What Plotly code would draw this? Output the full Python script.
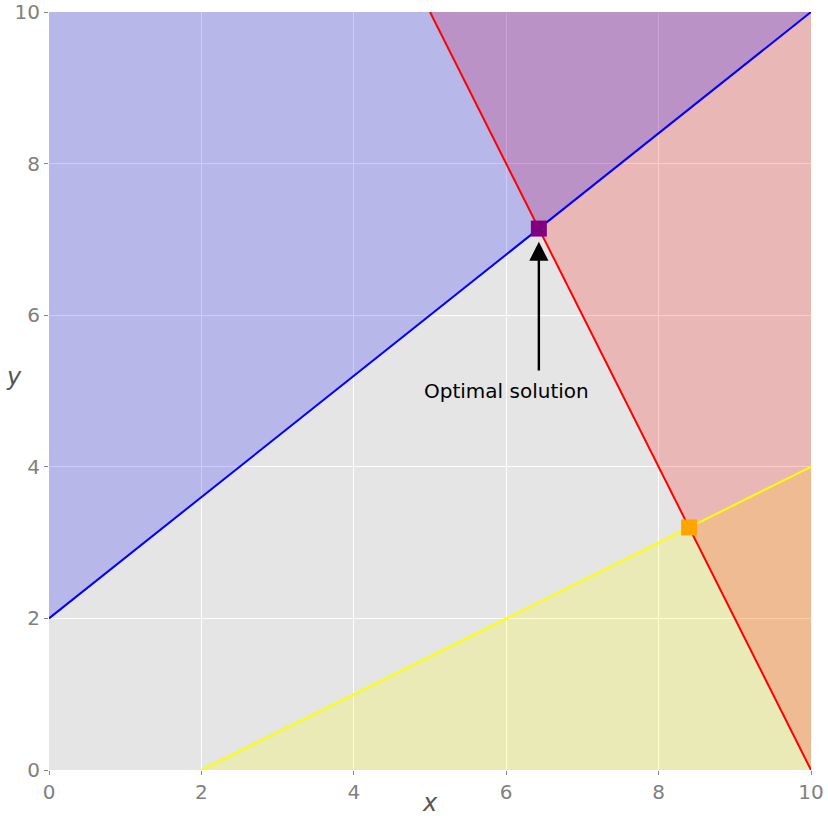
import plotly.graph_objects as go

# Constraint lines (endpoints)
blue_x = [0, 10]
blue_y = [2, 10]
red_x = [5, 10]
red_y = [10, 0]
yellow_x = [2, 10]
yellow_y = [0, 4]

# Intersection points
opt_x = [6.4286]
opt_y = [7.1429]
orange_x = [8.4]
orange_y = [3.2]

ticks = [0, 2, 4, 6, 8, 10]
x_range = [0, 10]
y_range = [0, 10]

fig = go.Figure()

# Fill regions (order: yellow, red, blue)
fig.add_trace(go.Scatter(
    x=[yellow_x[0], yellow_x[1], x_range[1]], y=[yellow_y[0], yellow_y[1], y_range[0]],
    fill="toself", fillcolor="rgba(255,255,0,0.2)", mode="none", showlegend=False, hoverinfo="skip"))
fig.add_trace(go.Scatter(
    x=[red_x[0], red_x[1], x_range[1]], y=[red_y[0], red_y[1], y_range[1]],
    fill="toself", fillcolor="rgba(255,0,0,0.2)", mode="none", showlegend=False, hoverinfo="skip"))
fig.add_trace(go.Scatter(
    x=[blue_x[0], blue_x[1], x_range[0]], y=[blue_y[0], blue_y[1], y_range[1]],
    fill="toself", fillcolor="rgba(0,0,255,0.2)", mode="none", showlegend=False, hoverinfo="skip"))

# Lines
fig.add_trace(go.Scatter(x=blue_x, y=blue_y, mode="lines", line=dict(color="blue", width=2), showlegend=False))
fig.add_trace(go.Scatter(x=red_x, y=red_y, mode="lines", line=dict(color="red", width=2), showlegend=False))
fig.add_trace(go.Scatter(x=yellow_x, y=yellow_y, mode="lines", line=dict(color="yellow", width=2), showlegend=False))

# Markers
fig.add_trace(go.Scatter(x=opt_x, y=opt_y, mode="markers",
                         marker=dict(symbol="square", size=16, color="purple"), showlegend=False))
fig.add_trace(go.Scatter(x=orange_x, y=orange_y, mode="markers",
                         marker=dict(symbol="square", size=16, color="orange"), showlegend=False))

axis_common = dict(
    range=x_range, tickvals=ticks, showgrid=True, gridcolor="white", gridwidth=1,
    zeroline=False, showline=False, ticks="outside", ticklen=4, tickcolor="#888888",
    tickfont=dict(size=20, color="#808080", family="DejaVu Sans"), automargin=False,
)
fig.update_xaxes(**axis_common)
fig.update_yaxes(**{**axis_common, "range": y_range})

fig.add_annotation(x=6.0, y=5.0, xref="x", yref="y", text="Optimal solution", showarrow=False,
                   font=dict(size=20, color="black", family="DejaVu Sans"))
fig.add_annotation(x=opt_x[0], y=6.97, xref="x", yref="y", ax=opt_x[0], ay=5.25,
                   axref="x", ayref="y", text="", showarrow=True, arrowhead=2,
                   arrowsize=1.6, arrowwidth=2.4, arrowcolor="black", standoff=0)
fig.add_annotation(x=0.5, y=-0.065, xref="paper", yref="paper", text="<i>x</i>", showarrow=False,
                   font=dict(size=24, color="#555555", family="DejaVu Sans"))
fig.add_annotation(x=-0.0585, y=0.5185, xref="paper", yref="paper", text="<i>y</i>", showarrow=False,
                   font=dict(size=24, color="#555555", family="DejaVu Sans"))

fig.update_layout(
    width=828, height=828,
    margin=dict(l=49, r=17, t=12, b=58, autoexpand=False),
    plot_bgcolor="#E5E5E5", paper_bgcolor="white",
    font=dict(family="DejaVu Sans"),
)

fig.write_html(
    "out.html",
    config={"displayModeBar": False},
    post_script="document.body.style.margin='0';document.body.style.padding='0';"
                "document.body.style.overflow='hidden';",
)
